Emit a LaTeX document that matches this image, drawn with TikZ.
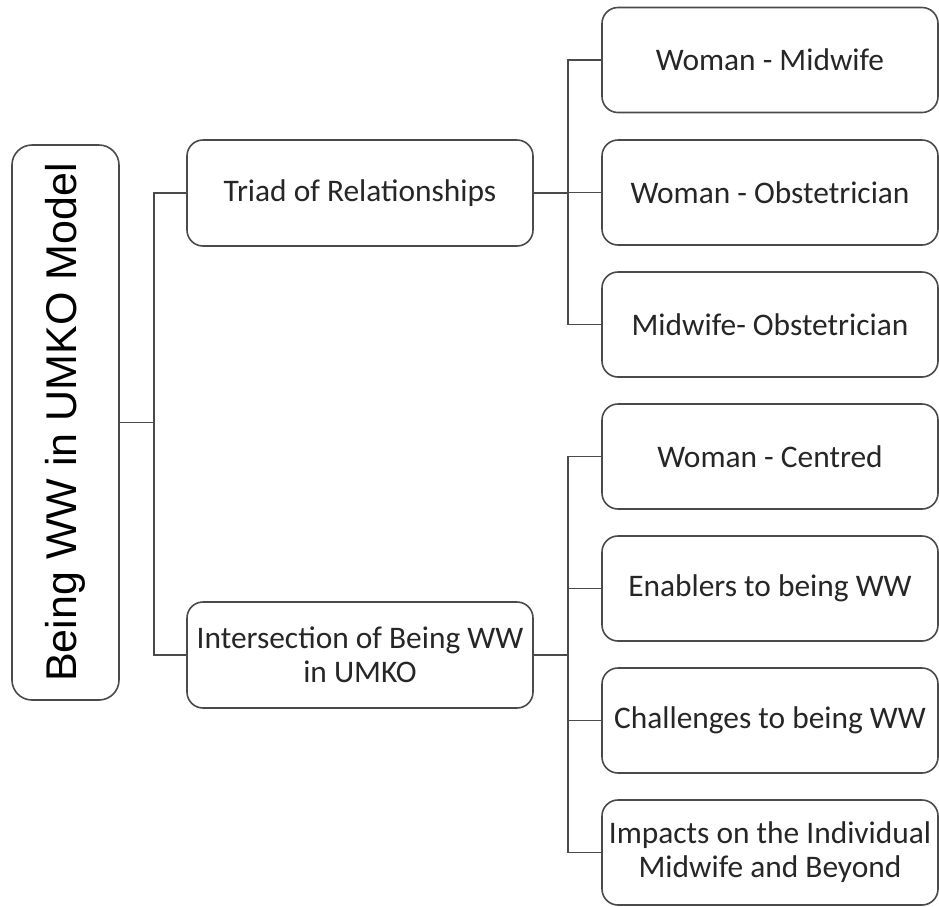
\documentclass[tikz,border=0pt]{standalone}
\usepackage{fontspec}
\usepackage{graphicx}
\setmainfont{Carlito}
\newfontfamily\rootfont{Liberation Sans}
\definecolor{edgecol}{HTML}{4A4A4A}
\definecolor{textcol}{HTML}{262626}
\begin{document}
\begin{tikzpicture}[x=1pt,y=-1pt,
  box/.style={draw=edgecol, line width=1.6pt, rounded corners=16pt, inner sep=0pt,
    align=center, text=textcol, font=\fontsize{31.4}{34}\selectfont},
  topicbox/.style={box, minimum width=346pt, minimum height=106pt},
  leafbox/.style={box, minimum width=336pt, minimum height=105pt},
  link/.style={draw=edgecol, line width=1.4pt}]
\useasboundingbox (0,0) rectangle (939,906);

% root
\node[box, rounded corners=20pt, minimum width=107pt, minimum height=555pt,
  font=\rootfont\fontsize{43}{48}\selectfont, text=black]
  (root) at (65.5,422.5) {\rotatebox{90}{Being WW in UMKO Model}};

% second level
\node[topicbox] (triad) at (360,193) {Triad of Relationships};
\node[topicbox] (inter) at (360,655) {Intersection of Being WW\\in UMKO};

% leaves of the triad
\node[leafbox] (wm) at (770,60) {Woman - Midwife};
\node[leafbox] (wo) at (770,192.5) {Woman - Obstetrician};
\node[leafbox] (mo) at (770,324.5) {Midwife- Obstetrician};

% leaves of the intersection
\node[leafbox] (wc) at (770,456.5) {Woman - Centred};
\node[leafbox] (en) at (770,588.5) {Enablers to being WW};
\node[leafbox] (ch) at (770,720.5) {Challenges to being WW};
\node[leafbox] (im) at (770,852.5) {Impacts on the Individual\\Midwife and Beyond};

% connectors
\foreach \t in {triad,inter}
  \draw[link] (root.east) -- ++(34,0) |- (\t.west);
\foreach \t in {wm,wo,mo}
  \draw[link] (triad.east) -- ++(34,0) |- (\t.west);
\foreach \t in {wc,en,ch,im}
  \draw[link] (inter.east) -- ++(34,0) |- (\t.west);
\end{tikzpicture}
\end{document}
